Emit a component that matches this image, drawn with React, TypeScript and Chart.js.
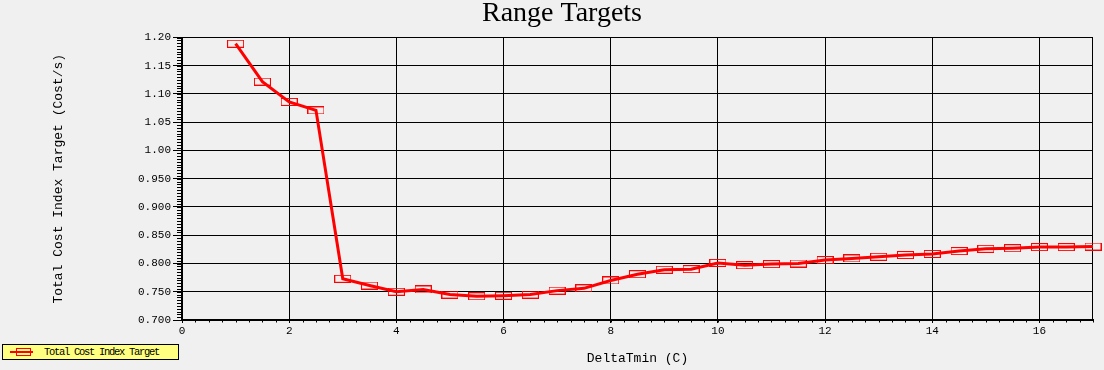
import React, { useEffect, useRef } from "react";
import { Chart, registerables } from "chart.js";

Chart.register(...registerables);

const chartTitle = "Range Targets";
const xAxisTitle = "DeltaTmin (C)";
const yAxisTitle = "Total Cost Index Target (Cost/s)";
const seriesName = "Total Cost Index Target";

const xValues = [
  1, 1.5, 2, 2.5, 3, 3.5, 4, 4.5, 5, 5.5, 6, 6.5, 7, 7.5, 8, 8.5, 9, 9.5, 10,
  10.5, 11, 11.5, 12, 12.5, 13, 13.5, 14, 14.5, 15, 15.5, 16, 16.5, 17,
];
const yValues = [
  1.189, 1.122, 1.086, 1.071, 0.773, 0.761, 0.75, 0.754, 0.745, 0.742, 0.743,
  0.745, 0.752, 0.756, 0.77, 0.781, 0.789, 0.79, 0.801, 0.797, 0.799, 0.8,
  0.806, 0.809, 0.812, 0.815, 0.817, 0.822, 0.826, 0.827, 0.829, 0.829, 0.83,
];

const xTickValues = [0, 2, 4, 6, 8, 10, 12, 14, 16];
const xTickLabels = ["0", "2", "4", "6", "8", "10", "12", "14", "16"];
const yTickValues = [0.7, 0.75, 0.8, 0.85, 0.9, 0.95, 1.0, 1.05, 1.1, 1.15, 1.2];
const yTickLabels = [
  "0.700", "0.750", "0.800", "0.850", "0.900", "0.950",
  "1.00", "1.05", "1.10", "1.15", "1.20",
];

const X_MIN = 0;
const X_MAX = 17;
const Y_MIN = 0.7;
const Y_MAX = 1.2;
const X_MINOR_STEP = 0.25;
const Y_MINOR_STEP = 0.005;

const MONO = '"Liberation Mono", "DejaVu Sans Mono", monospace';
const SERIF = '"Liberation Serif", "DejaVu Serif", serif';

const minorTicksPlugin = {
  id: "minorTicks",
  beforeDatasetsDraw(chart: any) {
    const { ctx, chartArea, scales } = chart;
    const x = scales.x;
    const y = scales.y;
    ctx.save();
    ctx.strokeStyle = "#000";
    ctx.lineWidth = 1;
    ctx.beginPath();
    const ny = Math.round((Y_MAX - Y_MIN) / Y_MINOR_STEP);
    for (let i = 0; i <= ny; i++) {
      const v = Y_MIN + i * Y_MINOR_STEP;
      const py = Math.round(y.getPixelForValue(v)) + 0.5;
      ctx.moveTo(chartArea.left - 5, py);
      ctx.lineTo(chartArea.left, py);
    }
    const nx = Math.round((X_MAX - X_MIN) / X_MINOR_STEP);
    for (let i = 0; i <= nx; i++) {
      const v = X_MIN + i * X_MINOR_STEP;
      const px = Math.round(x.getPixelForValue(v)) + 0.5;
      ctx.moveTo(px, chartArea.bottom);
      ctx.lineTo(px, chartArea.bottom + 2.5);
    }
    const rx = Math.round(chartArea.right) - 0.5;
    ctx.moveTo(rx, chartArea.top);
    ctx.lineTo(rx, chartArea.bottom);
    ctx.stroke();
    ctx.restore();
  },
};

function makeMarker(): HTMLCanvasElement {
  const c = document.createElement("canvas");
  c.width = 17;
  c.height = 8;
  const g = c.getContext("2d")!;
  g.strokeStyle = "#ff0000";
  g.lineWidth = 1;
  g.strokeRect(0.5, 0.5, 16, 7);
  return c;
}

export default function App() {
  const canvasRef = useRef<HTMLCanvasElement | null>(null);

  useEffect(() => {
    document.body.style.margin = "0";
    document.body.style.background = "#f0f0f0";
    const marker = makeMarker();
    const chart = new Chart(canvasRef.current!, {
      type: "line",
      data: {
        datasets: [
          {
            label: seriesName,
            data: xValues.map((x, i) => ({ x, y: yValues[i] })),
            borderColor: "#ff0000",
            backgroundColor: "#ff0000",
            borderWidth: 3,
            tension: 0,
            pointStyle: marker as any,
            pointRadius: 8,
            clip: false as any,
          },
        ],
      },
      options: {
        animation: false,
        responsive: true,
        maintainAspectRatio: false,
        layout: { padding: { left: 28, right: 8, top: 0, bottom: 0 } },
        plugins: {
          legend: { display: false },
          tooltip: { enabled: false },
          title: {
            display: true,
            text: chartTitle,
            color: "#000",
            font: { family: SERIF, size: 28, weight: "normal", lineHeight: 1 },
            padding: { top: 0, bottom: 9.5 },
          },
        },
        scales: {
          x: {
            type: "linear",
            min: X_MIN,
            max: X_MAX,
            afterFit: (s: any) => {
              s.height = 50;
            },
            afterBuildTicks: (s: any) => {
              s.ticks = xTickValues.map((v) => ({ value: v }));
            },
            ticks: {
              color: "#000",
              font: { family: MONO, size: 11 },
              padding: 1,
              maxRotation: 0,
              autoSkip: false,
              callback: (_v: any, i: number) => xTickLabels[i],
            },
            grid: { color: "#000", lineWidth: 1, tickLength: 3, drawTicks: true },
            border: { display: true, color: "#000", width: 2 },
            title: {
              display: true,
              text: xAxisTitle,
              color: "#000",
              font: { family: MONO, size: 13 },
              padding: { top: 0, bottom: 4 },
            },
          },
          y: {
            type: "linear",
            min: Y_MIN,
            max: Y_MAX,
            afterFit: (s: any) => {
              s.width = 154;
            },
            afterBuildTicks: (s: any) => {
              s.ticks = yTickValues.map((v) => ({ value: v }));
            },
            ticks: {
              color: "#000",
              font: { family: MONO, size: 11 },
              padding: 2,
              autoSkip: false,
              callback: (_v: any, i: number) => yTickLabels[i],
            },
            grid: { color: "#000", lineWidth: 1, tickLength: 9, drawTicks: true },
            border: { display: true, color: "#000", width: 2 },
            title: {
              display: true,
              text: yAxisTitle,
              color: "#000",
              font: { family: MONO, size: 13 },
              padding: { top: 23, bottom: 0 },
            },
          },
        },
      },
      plugins: [minorTicksPlugin],
    });
    return () => chart.destroy();
  }, []);

  return (
    <div
      style={{
        position: "absolute",
        left: 0,
        top: 0,
        width: 1104,
        height: 370,
        background: "#f0f0f0",
        overflow: "hidden",
      }}
    >
      <canvas ref={canvasRef} />
      <div
        style={{
          position: "absolute",
          left: 2,
          top: 344,
          width: 175,
          height: 14,
          background: "#ffff80",
          border: "1px solid #000",
          boxSizing: "content-box",
        }}
      >
        <div
          style={{
            position: "absolute",
            left: 7,
            top: 6,
            width: 23,
            height: 2,
            background: "#ff0000",
          }}
        />
        <div
          style={{
            position: "absolute",
            left: 13,
            top: 3,
            width: 13,
            height: 6,
            border: "1px solid #ff0000",
          }}
        />
        <div
          style={{
            position: "absolute",
            left: 41,
            top: 0,
            height: 14,
            lineHeight: "14px",
            fontFamily: MONO,
            fontSize: "10.5px",
            letterSpacing: "-1.3px",
            color: "#000",
            whiteSpace: "nowrap",
          }}
        >
          {seriesName}
        </div>
      </div>
    </div>
  );
}
